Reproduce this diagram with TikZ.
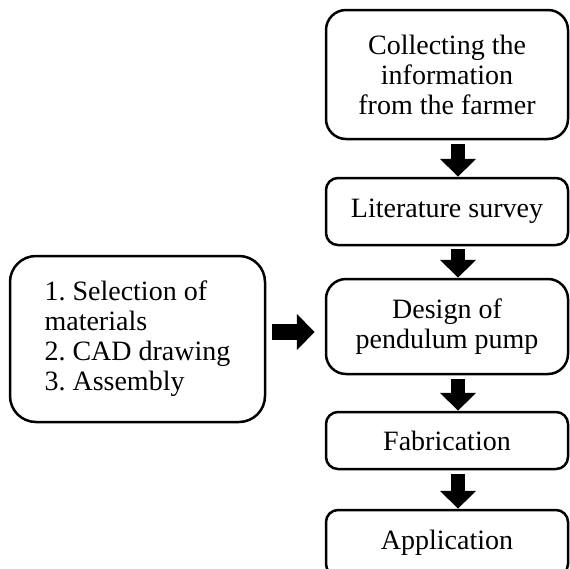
\documentclass[tikz,border=0pt]{standalone}
\usepackage{fontspec}
\setmainfont{Liberation Serif}
\frenchspacing
\usetikzlibrary{arrows.meta,calc}
\tikzset{
    block/.style = {draw, rectangle, rounded corners=12pt,
        line width=2.5pt, inner sep=0pt,
        minimum width=242pt, align=center,
        font=\fontsize{28}{30}\selectfont},
    bigblock/.style = {block, rounded corners=20pt},
    arrow/.style = {draw, line width=14pt,
        -{Triangle[width=35pt,length=18pt]}}
}

\begin{document}
\begin{tikzpicture}[x=1pt,y=1pt]
    \useasboundingbox (0,0) rectangle (570,-568);
    \clip (0,0) rectangle (570,-568);
    \node [bigblock, minimum height=129pt] (collect) at (447,-74.5) {Collecting the\\information\\from the farmer};
    \node [block, minimum height=67pt] (lit) at (447,-211.5) {Literature survey};
    \node [bigblock, minimum height=95pt] (design) at (447,-326.5) {Design of\\pendulum pump};
    \node [block, minimum height=57pt] (fab) at (447,-440.5) {Fabrication};
    \node [block, minimum height=66pt] (app) at (447,-543) {Application};
    \node [bigblock, rounded corners=26pt, minimum width=255pt, minimum height=166pt, align=left] (tasks) at (137.5,-339) {1. Selection of\\materials\\2. CAD drawing\\3. Assembly};
    % flow downwards
    \draw [arrow, shorten <=4pt] ([xshift=11pt]collect.south) -- ([xshift=11pt]lit.north);
    \draw [arrow, shorten <=3pt] ([xshift=11pt]lit.south) -- ([xshift=11pt]design.north);
    \draw [arrow, shorten <=4pt] ([xshift=11pt]design.south) -- ([xshift=11pt]fab.north);
    \draw [arrow, shorten <=4pt] ([xshift=11pt]fab.south) -- ([xshift=11pt]app.north);
    \draw [arrow, line width=16pt, shorten <=6pt, shorten >=10pt] ([yshift=7pt]tasks.east) -- ([yshift=7pt]tasks.east -| design.west);
\end{tikzpicture}
\end{document}
